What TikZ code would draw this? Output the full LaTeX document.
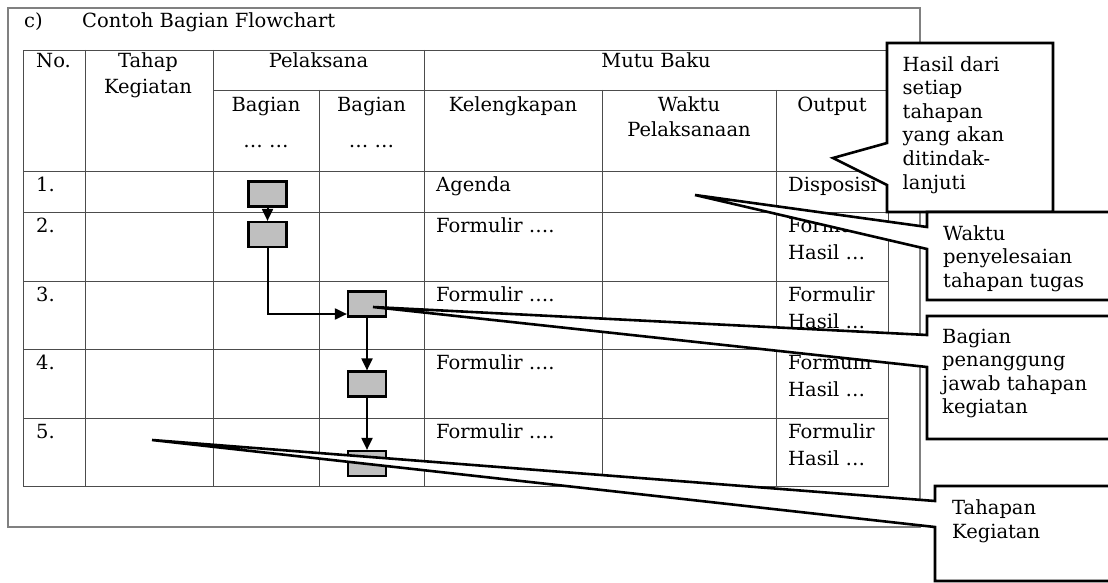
\documentclass[tikz,border=0pt]{standalone}
\usepackage{fontspec}
\setmainfont{DejaVu Serif}
\usetikzlibrary{arrows.meta}
\begin{document}
\begin{tikzpicture}[x=1pt,y=-1pt,
  every node/.style={inner sep=0pt, font=\fontsize{19.5}{23}\selectfont},
  lt/.style={anchor=base west},
  ct/.style={anchor=base},
  frame/.style={draw=black!50, line width=1.1pt},
  tline/.style={draw=black!70, line width=0.9pt},
  fbox/.style={draw=black, line width=2.2pt, fill=black!25, minimum width=38pt, minimum height=25pt},
  flow/.style={draw=black, line width=2pt, -{Triangle[length=12pt,width=11pt]}},
  callout/.style={draw=black, line width=2.6pt, fill=white, line join=miter},
]
\useasboundingbox (0,0) rectangle (1108,583);
\fill[white] (0,0) rectangle (1108,583);
\draw[frame] (8,8) rectangle (920,527);
\node[lt] (c) at (24,28) {c)};
\node[lt] (title) at (82,28) {Contoh Bagian Flowchart};

% table grid
\draw[tline] (23,50) rectangle (888,486);
\draw[tline] (213,90) -- (888,90);
\foreach \y in {171,212,281,349,418} \draw[tline] (23,\y) -- (888,\y);
\foreach \x in {85,213,424} \draw[tline] (\x,50) -- (\x,486);
\foreach \x in {319,602,776} \draw[tline] (\x,90) -- (\x,486);

% header
\node[lt] (hno) at (36,68) {No.};
\node[ct] (htahap) at (148,68) {Tahap};
\node[ct] (hkeg) at (148,94) {Kegiatan};
\node[ct] (hpel) at (318.5,68) {Pelaksana};
\node[ct] (hmutu) at (656,68) {Mutu Baku};
\node[ct] (hbag1) at (266,112) {Bagian};
\node[ct] (hdot1) at (266,147) {… …};
\node[ct] (hbag2) at (371.5,112) {Bagian};
\node[ct] (hdot2) at (371.5,147) {… …};
\node[ct] (hkel) at (513,112) {Kelengkapan};
\node[ct] (hwak) at (689,112) {Waktu};
\node[ct] (hpls) at (689,137) {Pelaksanaan};
\node[ct] (hout) at (832,112) {Output};

% rows
\node[lt] (n1) at (36,191.5) {1.};
\node[lt] (k1) at (436,191.5) {Agenda};
\node[lt] (o1) at (788,191.5) {Disposisi};
\foreach \i/\y in {2/232.5,3/301.5,4/369.5,5/438.5}{
  \node[lt] (n\i) at (36,\y) {\i.};
  \node[lt] (k\i) at (436,\y) {Formulir ….};
  \node[lt] (o\i) at (788,\y) {Formulir};
  \node[lt] (h\i) at (788,\y+27) {Hasil …};
}

% flowchart
\node[fbox] (b1) at (267.5,194) {};
\node[fbox] (b2) at (267.5,234.5) {};
\node[fbox] (b3) at (367,304) {};
\node[fbox] (b4) at (367,384) {};
\node[fbox] (b5) at (367,463.5) {};
\draw[flow] (b1) -- (b2);
\draw[flow] (b2.south) |- ([yshift=-10pt]b3.west);
\draw[flow] (b3) -- (b4);
\draw[flow] (b4) -- (b5);

% callouts
\coordinate (tipH) at (833,158);
\draw[callout] (887,43) -- (1053,43) -- (1053,212) -- (887,212) -- (887,185) -- (tipH) -- (887,143) -- cycle;
\coordinate (tipW) at (695,195);
\draw[callout] (927,212) -- (1120,212) -- (1120,300) -- (927,300) -- (927,249) -- (tipW) -- (927,227) -- cycle;
\coordinate (tipB) at (373,307);
\draw[callout] (927,316) -- (1120,316) -- (1120,439) -- (927,439) -- (927,367) -- (tipB) -- (927,335) -- cycle;
\coordinate (tipT) at (152,440);
\draw[callout] (935,486) -- (1120,486) -- (1120,581) -- (935,581) -- (935,527) -- (tipT) -- (935,501) -- cycle;

\node[lt] (ha1) at (902.5,71.5) {Hasil dari};
\node[lt] (ha2) at (902.5,95) {setiap};
\node[lt] (ha3) at (902.5,118.5) {tahapan};
\node[lt] (ha4) at (902.5,142) {yang akan};
\node[lt] (ha5) at (902.5,165.5) {ditindak-};
\node[lt] (ha6) at (902.5,189) {lanjuti};

\node[lt] (wa1) at (943,240) {Waktu};
\node[lt] (wa2) at (943,263.5) {penyelesaian};
\node[lt] (wa3) at (943,287) {tahapan tugas};

\node[lt] (ba1) at (942,343) {Bagian};
\node[lt] (ba2) at (942,366.5) {penanggung};
\node[lt] (ba3) at (942,390) {jawab tahapan};
\node[lt] (ba4) at (942,413.5) {kegiatan};

\node[lt] (ta1) at (952,514.5) {Tahapan};
\node[lt] (ta2) at (952,538) {Kegiatan};
\end{tikzpicture}
\end{document}
